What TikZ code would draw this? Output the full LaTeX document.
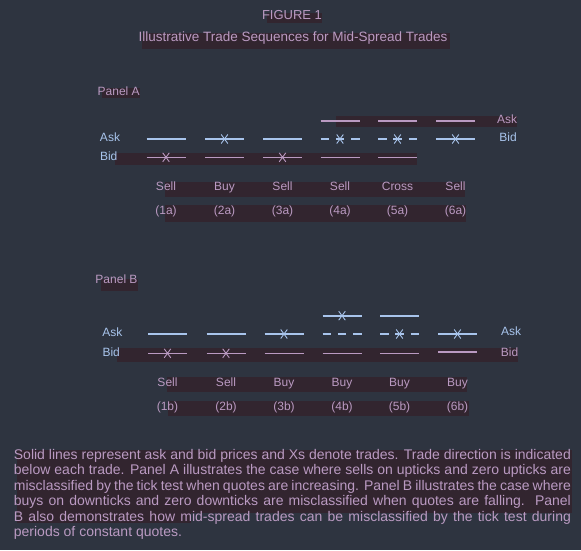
\documentclass[tikz,border=0pt]{standalone}
\usepackage{fontspec}
\setmainfont{Liberation Sans}
\usepackage{xcolor}
\usepackage{tikz}
\usetikzlibrary{
positioning
}

\definecolor{bgcol}{RGB}{46,52,64}
\definecolor{askcol}{RGB}{168,196,236}
\definecolor{bidcol}{RGB}{186,154,194}
\definecolor{bandcol}{RGB}{50,37,47}

% one quote line, centred on x, at height y
\newcommand{\quoteseg}[3]{\draw[#3] ({#1-19.5},#2) -- ({#1+19.5},#2);}
% a trade, drawn as a small x
\newcommand{\tradeX}[3]{\draw[trade,#3,shift={(#1,#2)}] (-3.3,-4.5) -- (3.3,4.5) (-3.3,4.5) -- (3.3,-4.5);}

\begin{document}
\begin{tikzpicture}[
x=1pt,y=-1pt,
txt/.style={
inner sep=0pt,
text height=.716em,
text depth=0pt,
font=\fontsize{12}{14}\selectfont
},
asktxt/.style={txt,text=askcol},
bidtxt/.style={txt,text=bidcol},
band/.style={fill=bandcol},
askline/.style={line width=1.6pt,draw=askcol},
bidline/.style={line width=1.6pt,draw=bidcol},
gapline/.style={askline,dash pattern=on 8.5pt off 6.75pt},
trade/.style={line width=.9pt}
]

\fill[bgcol] (0,0) rectangle (581,550);
\useasboundingbox (0,0) rectangle (581,550);

% highlight bands
\fill[band] (266.7,13.3) rectangle (321.7,22.7);
\fill[band] (141.7,33.3) rectangle (450,49);
\fill[band] (101.7,88.3) rectangle (140,98.3);
\fill[band] (336,116) rectangle (517,127);
\fill[band] (115,153) rectangle (417,165);
\fill[band] (165,182) rectangle (465,197);
\fill[band] (165,205) rectangle (466,222);
\fill[band] (101,279) rectangle (138,291);
\fill[band] (117,348) rectangle (518,362);
\fill[band] (167,377) rectangle (467,392);
\fill[band] (168,401) rectangle (469,416);
\fill[band] (17,450) rectangle (572,513);
\fill[band] (17,513) rectangle (191,523);

% heading
\node[bidtxt,font=\fontsize{13}{15}\selectfont] (fig) at (292,15.5) {FIGURE 1};
\node[bidtxt,font=\fontsize{13.5}{16}\selectfont] (title) at (293,38) {Illustrative Trade Sequences for Mid-Spread Trades};

% Panel A
\node[bidtxt] (panelA) at (118.7,91.5) {Panel A};
\node[asktxt] (askA) at (110,137.7) {Ask};
\node[asktxt] (bidA) at (108.7,157) {Bid};
\node[bidtxt] (askA2) at (507,120) {Ask};
\node[asktxt] (bidA2) at (508,137.7) {Bid};

\quoteseg{166}{139}{askline}
\quoteseg{166}{157.3}{bidline}
\tradeX{166}{157.3}{bidcol}

\quoteseg{224.5}{139}{askline}
\tradeX{224.5}{139}{askcol}
\quoteseg{224.5}{157.3}{bidline}

\quoteseg{282.5}{139}{askline}
\quoteseg{282.5}{157.3}{bidline}
\tradeX{282.5}{157.3}{bidcol}

\quoteseg{340}{121}{bidline}
\quoteseg{340}{139}{gapline}
\tradeX{340}{139}{askcol}
\quoteseg{340}{157.3}{bidline}

\quoteseg{397.5}{121}{bidline}
\quoteseg{397.5}{139}{gapline}
\tradeX{397.5}{139}{askcol}
\quoteseg{397.5}{157.3}{bidline}

\quoteseg{455.5}{121}{bidline}
\quoteseg{455.5}{139}{askline}
\tradeX{455.5}{139}{askcol}

\foreach \cx/\dir/\tag in {166/Sell/1a,224.5/Buy/2a,282.5/Sell/3a,340/Sell/4a,397.5/Cross/5a,455.5/Sell/6a}{
\node[bidtxt] (dir-\tag) at (\cx,186.5) {\dir};
\node[bidtxt] (tag-\tag) at (\cx,210.5) {(\tag)};
}

% Panel B
\node[bidtxt] (panelB) at (116.5,280) {Panel B};
\node[asktxt] (askB) at (112.3,333) {Ask};
\node[asktxt] (bidB) at (111.2,352.5) {Bid};
\node[asktxt] (askB2) at (511,332) {Ask};
\node[bidtxt] (bidB2) at (509.5,352.7) {Bid};

\quoteseg{167.5}{334}{askline}
\quoteseg{167.5}{353.3}{bidline}
\tradeX{167.5}{353.3}{bidcol}

\quoteseg{226}{334}{askline}
\quoteseg{226}{353.3}{bidline}
\tradeX{226}{353.3}{bidcol}

\quoteseg{284}{334}{askline}
\tradeX{284}{334}{askcol}
\quoteseg{284}{353.3}{bidline}

\quoteseg{342}{315.7}{askline}
\tradeX{342}{315.7}{askcol}
\quoteseg{342}{334}{gapline}
\quoteseg{342}{353.3}{bidline}

\quoteseg{399.5}{315.7}{askline}
\quoteseg{399.5}{334}{gapline}
\tradeX{399.5}{334}{askcol}
\quoteseg{399.5}{353.3}{bidline}

\quoteseg{457.5}{334}{askline}
\tradeX{457.5}{334}{askcol}
\quoteseg{457.5}{352}{bidline}

\foreach \cx/\dir/\tag in {167.5/Sell/1b,226/Sell/2b,284/Buy/3b,342/Buy/4b,399.5/Buy/5b,457.5/Buy/6b}{
\node[bidtxt] (dir-\tag) at (\cx,382.7) {\dir};
\node[bidtxt] (tag-\tag) at (\cx,406.5) {(\tag)};
}

% caption
\node[anchor=base west,inner sep=0pt,text width=557pt,align=justify,text=bidcol,
font=\fontsize{14}{15.4}\selectfont] (note) at (13.7,459.5)
{Solid lines represent ask and bid prices and Xs denote trades. Trade direction is indicated\linebreak
below each trade. Panel A illustrates the case where sells on upticks and zero upticks are\linebreak
misclassified by the tick test when quotes are increasing. Panel B illustrates the case where\linebreak
buys on downticks and zero downticks are misclassified when quotes are falling.\ \ Panel\linebreak
B also demonstrates how mid-spread trades can be misclassified by the tick test during\linebreak
periods of constant quotes.};

\end{tikzpicture}
\end{document}
